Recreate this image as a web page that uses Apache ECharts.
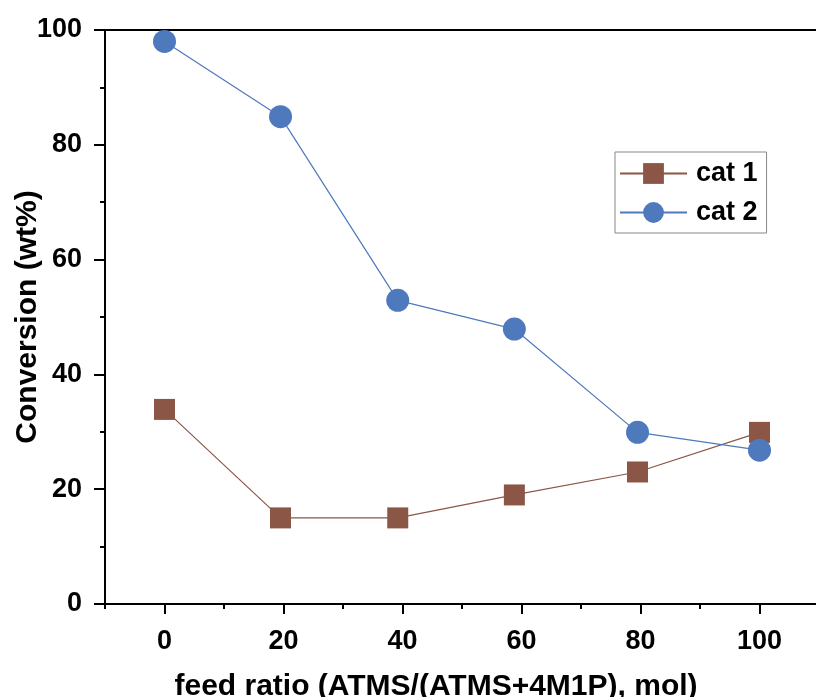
<!DOCTYPE html>
<html>
<head>
<meta charset="utf-8">
<script src="https://cdn.jsdelivr.net/npm/echarts@6/dist/echarts.min.js"></script>
<style>html,body{margin:0;padding:0;background:#fff}#c{width:816px;height:697px}</style>
</head>
<body>
<div id="c"></div>
<script>
const xCat = [0, 19.5, 39.2, 58.8, 79.5, 100];
const cat1 = [33.9, 15.0, 15.0, 19.0, 23.0, 29.9];
const cat2 = [98.0, 84.9, 52.9, 47.9, 29.9, 26.8];
const seriesNames = ['cat 1', 'cat 2'];
const xMajorTicks = [0, 20, 40, 60, 80, 100];
const xMinorTicks = [-10, 10, 30, 50, 70, 90, 110];
const xTitle = 'feed ratio (ATMS/(ATMS+4M1P), mol)';
const yTitle = 'Conversion (wt%)';

const font = 'Liberation Sans, Arial, sans-serif';
const chart = echarts.init(document.getElementById('c'));
const black = { color: '#000', width: 2 };
chart.setOption({
  animation: false,
  backgroundColor: '#fff',
  grid: { left: 105, top: 30, width: 714, height: 574, containLabel: false, outerBoundsMode: 'none' },
  legend: {
    left: 615, top: 152,
    orient: 'vertical',
    itemWidth: 67, itemHeight: 26, itemGap: 12,
    borderColor: '#888', borderWidth: 1, padding: [8, 9, 7, 4],
    textStyle: { fontFamily: font, fontWeight: 'bold', fontSize: 27, color: '#000', padding: [0, 0, 0, 4] },
    data: seriesNames
  },
  xAxis: [{
    type: 'value', min: -10, max: 110,
    position: 'bottom',
    axisLine: { show: true, onZero: false, lineStyle: black },
    axisTick: { show: true, inside: false, length: 10, lineStyle: black, customValues: xMajorTicks },
    splitLine: { show: false },
    axisLabel: { margin: 24, fontFamily: font, fontWeight: 'bold', fontSize: 27, color: '#000', customValues: xMajorTicks },
    name: xTitle, nameLocation: 'middle', nameGap: 68, nameMoveOverlap: false,
    nameTextStyle: { fontFamily: font, fontWeight: 'bold', fontSize: 30, color: '#000', padding: [0, 52, 0, 0] }
  }, {
    type: 'value', min: -10, max: 110, position: 'bottom', offset: 0,
    axisLine: { show: false },
    axisTick: { show: true, inside: false, length: 5, lineStyle: black, customValues: xMinorTicks },
    axisLabel: { show: false }, splitLine: { show: false }
  }, {
    type: 'value', min: -10, max: 110, position: 'top',
    axisLine: { show: true, onZero: false, lineStyle: black },
    axisTick: { show: false }, axisLabel: { show: false }, splitLine: { show: false }
  }],
  yAxis: {
    type: 'value', min: 0, max: 100, interval: 20,
    axisLine: { show: true, onZero: false, lineStyle: black },
    axisTick: { show: true, inside: false, length: 11, lineStyle: black },
    minorTick: { show: true, splitNumber: 2, length: 5, lineStyle: black },
    splitLine: { show: false },
    axisLabel: { margin: 23, fontFamily: font, fontWeight: 'bold', fontSize: 27, color: '#000' },
    name: yTitle, nameLocation: 'middle', nameGap: 62, nameMoveOverlap: false,
    nameTextStyle: { fontFamily: font, fontWeight: 'bold', fontSize: 30, color: '#000' }
  },
  series: [{
    name: seriesNames[0], type: 'line', xAxisIndex: 0,
    data: xCat.map((x, i) => [x, cat1[i]]),
    symbol: 'rect', symbolSize: 21,
    itemStyle: { color: '#8B5646' },
    lineStyle: { color: '#8B5646', width: 1.2 }
  }, {
    name: seriesNames[1], type: 'line', xAxisIndex: 0,
    data: xCat.map((x, i) => [x, cat2[i]]),
    symbol: 'circle', symbolSize: 23,
    itemStyle: { color: '#4E79BD' },
    lineStyle: { color: '#4E79BD', width: 1.2 }
  }]
});
</script>
</body>
</html>
